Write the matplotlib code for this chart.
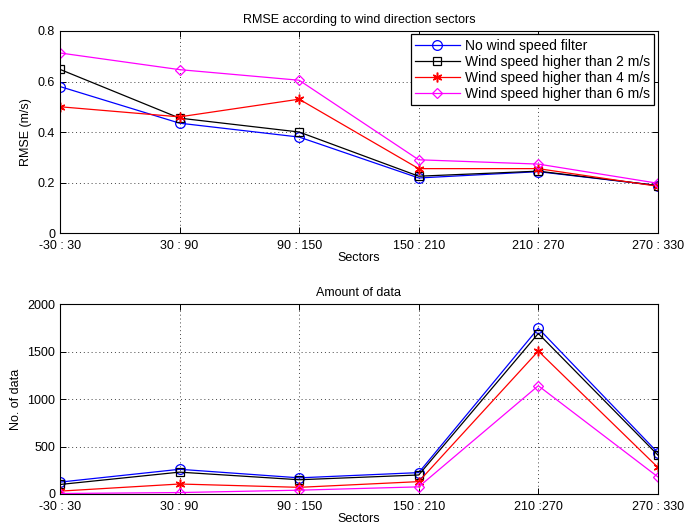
import numpy as np
import matplotlib.pyplot as plt

plt.rcParams['font.family'] = ['Liberation Sans', 'DejaVu Sans']
plt.rcParams['font.size'] = 9

sectors = ["-30 : 30", "30 : 90", "90 : 150", "150 : 210", "210 : 270", "270 : 330"]
sectors_bottom = ["-30 : 30", "30 : 90", "90 : 150", "150 : 210", "210 :270", "270 : 330"]

series_names = ["No wind speed filter", "Wind speed higher than 2 m/s",
                "Wind speed higher than 4 m/s", "Wind speed higher than 6 m/s"]

# RMSE per sector (m/s)
rmse_all = [0.580, 0.435, 0.380, 0.218, 0.243, 0.188]
rmse_2 = [0.648, 0.455, 0.400, 0.225, 0.245, 0.188]
rmse_4 = [0.500, 0.460, 0.530, 0.255, 0.255, 0.185]
rmse_6 = [0.713, 0.647, 0.605, 0.290, 0.273, 0.197]

# number of samples per sector
count_all = [125, 260, 170, 225, 1745, 435]
count_2 = [100, 230, 150, 200, 1690, 410]
count_4 = [30, 105, 70, 130, 1505, 280]
count_6 = [5, 15, 40, 75, 1140, 180]

colors = ['blue', 'black', 'red', 'magenta']
markers = ['o', 's', (6, 2, 0), 'D']
msizes = [7, 6, 7, 5.5]

x = np.arange(len(sectors))

fig = plt.figure(figsize=(6.88, 5.29), dpi=100)
ax1 = fig.add_axes([0.0872, 0.5595, 0.869, 0.3819])
ax2 = fig.add_axes([0.0872, 0.0662, 0.869, 0.3590])


def style_axes(ax):
    ax.grid(True, linestyle=(0, (1, 3)), color='#444444', linewidth=0.7)
    ax.tick_params(direction='in', top=True, right=True, length=4, width=0.7)
    ax.tick_params(axis='x', pad=5)
    for s in ax.spines.values():
        s.set_linewidth(0.8)
    ax.set_xlim(x[0], x[-1])


def draw(ax, series, labels=None):
    for i, vals in enumerate(series):
        ax.plot(x, vals, color=colors[i], marker=markers[i], markersize=msizes[i],
                markerfacecolor='none', markeredgecolor=colors[i],
                markeredgewidth=1.1 if i == 2 else 0.9, linewidth=0.9,
                label=labels[i] if labels else None)


draw(ax1, [rmse_all, rmse_2, rmse_4, rmse_6], series_names)
ax1.set_ylim(0, 0.8)
ax1.set_yticks([0, 0.2, 0.4, 0.6, 0.8])
ax1.set_yticklabels(['0', '0.2', '0.4', '0.6', '0.8'])
ax1.set_xticks(x)
ax1.set_xticklabels(sectors)
ax1.set_title("RMSE according to wind direction sectors", fontsize=9, pad=6)
ax1.set_xlabel("Sectors", labelpad=0)
ax1.set_ylabel("RMSE (m/s)")
style_axes(ax1)
leg = ax1.legend(loc='upper right', fancybox=False, framealpha=1, edgecolor='black',
                 fontsize=10, borderpad=0.3, labelspacing=0.15, handlelength=3.2,
                 handletextpad=0.4, borderaxespad=0.25)
leg.get_frame().set_linewidth(0.9)

draw(ax2, [count_all, count_2, count_4, count_6])
ax2.set_ylim(0, 2000)
ax2.set_yticks([0, 500, 1000, 1500, 2000])
ax2.set_xticks(x)
ax2.set_xticklabels(sectors_bottom)
ax2.set_title("Amount of data", fontsize=9, pad=6)
ax2.set_xlabel("Sectors", labelpad=0)
ax2.set_ylabel("No. of data")
style_axes(ax2)

fig.savefig("out.png", dpi=100)
